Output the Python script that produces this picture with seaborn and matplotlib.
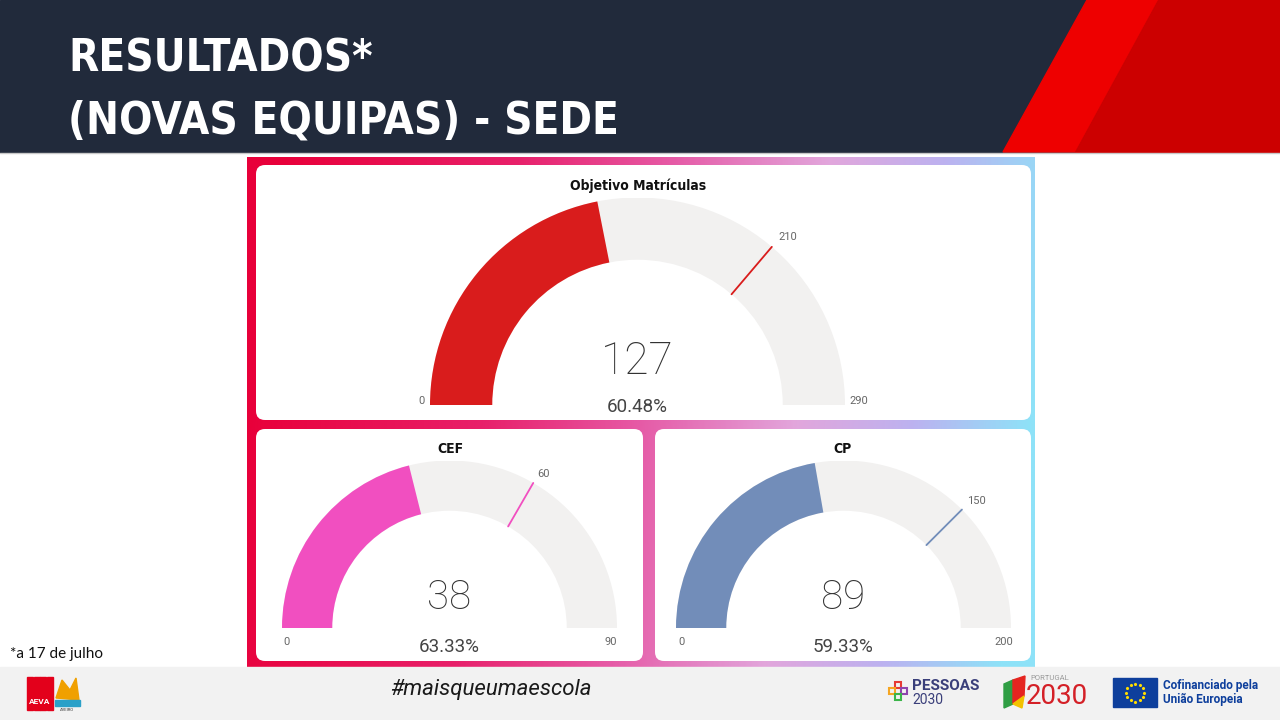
import numpy as np
import matplotlib
matplotlib.use("Agg")
import matplotlib.pyplot as plt
import seaborn as sns
from matplotlib import font_manager
from matplotlib.patches import Rectangle, Polygon, FancyBboxPatch, Wedge
from matplotlib.colors import LinearSegmentedColormap

# gauge data
gauge_titles = ["Objetivo Matrículas", "CEF", "CP"]
gauge_values = [127, 38, 89]
gauge_targets = [210, 60, 150]
gauge_max = [290, 90, 200]
gauge_pcts = ["60.48%", "63.33%", "59.33%"]
gauge_colors = ["#d91c1c", "#f14fc0", "#728db9"]

slide_title = ["RESULTADOS*", "(NOVAS EQUIPAS) - SEDE"]
footnote = "*a 17 de julho"
hashtag = "#maisqueumaescola"

W, H = 1280, 720
NAVY = "#212a3b"
TRACK = "#f2f1f0"

sns.set_theme(style="white")
plt.rcParams["font.family"] = ["Roboto", "DejaVu Sans"]

# use a condensed cut for the headline if one is installed
has_cond = any(f.name == "DejaVu Sans" and f.stretch == "condensed"
               for f in font_manager.fontManager.ttflist)
title_size = 31.5 if has_cond else 29

fig = plt.figure(figsize=(12.8, 7.2), dpi=100)
bg = fig.add_axes([0, 0, 1, 1])
bg.set_xlim(0, W)
bg.set_ylim(H, 0)
bg.axis("off")

# header band with red stripes
bg.add_patch(Rectangle((0, 0), W, 152, color=NAVY, zorder=1))
bg.add_patch(Polygon([(1087, 0), (1158, 0), (1075, 152), (1003, 152)], color="#ee0000", zorder=2))
bg.add_patch(Polygon([(1158, 0), (W, 0), (W, 152), (1075, 152)], color="#cc0000", zorder=2))
bg.plot([0, W], [152.5, 152.5], color="#c8c8c8", lw=1, zorder=2)
for line, yb in zip(slide_title, [72, 134]):
    bg.text(68, yb, line, color="white", fontsize=title_size, fontweight="bold",
            family="DejaVu Sans", fontstretch="condensed", va="baseline", zorder=3)

# gradient frame behind the cards
grad = LinearSegmentedColormap.from_list(
    "frame", [(0.0, "#e8003a"), (0.3, "#e8206a"), (0.5, "#e65aa6"),
              (0.7, "#e2a6dc"), (0.85, "#bcb2f0"), (1.0, "#8ee2f8")])
gx = np.linspace(0, 1, 400)
gy = np.linspace(0, 1, 100)
GX, GY = np.meshgrid(gx, gy)
field = np.clip(GX + 0.08 * (GY - 0.5), 0, 1)
bg.imshow(field, cmap=grad, extent=(247, 1035, 667, 157), aspect="auto",
          interpolation="bilinear", zorder=1)

cards = [(256, 165, 775, 255), (256, 429, 387, 232), (655, 429, 376, 232)]
for x0, y0, cw, ch in cards:
    bg.add_patch(FancyBboxPatch((x0 + 9, y0 + 9), cw - 18, ch - 18,
                                boxstyle="round,pad=9", fc="white", ec="none", zorder=2))

# footer
bg.add_patch(Rectangle((0, 667), W, 53, color="#f2f2f2", zorder=1))
bg.text(10, 654, footnote, fontsize=11, family=["Lato", "DejaVu Sans"], color="#111111",
        va="center", zorder=3)
bg.text(491, 690, hashtag, fontsize=16, style="italic", color="#1a1a1a",
        ha="center", va="center", zorder=3)

# AEVA logo
for i in range(4):
    bg.add_patch(Rectangle((27 + i * 6.7, 677), 6, 33, color="#e3001b", zorder=3))
bg.text(40, 701, "AEVA", fontsize=6, color="white", ha="center", va="center",
        fontweight="bold", zorder=4)
bg.add_patch(Polygon([(56, 698), (62, 680), (70, 690), (76, 678), (79, 700)],
                     color="#f0a000", zorder=3))
bg.add_patch(Rectangle((55, 700), 25, 6, color="#2aa0c8", zorder=3))
bg.text(67, 710, "AVEIRO", fontsize=3, color="#333333", ha="center", va="center", zorder=4)

# PESSOAS 2030
for dx, dy, c in [(0, -6, "#e53935"), (-6, 0, "#f5a623"), (6, 0, "#8e44ad"), (0, 6, "#3bb54a")]:
    bg.add_patch(Rectangle((895 + dx, 688 + dy), 6, 6, fc="none", ec=c, lw=1.5, zorder=3))
bg.text(912, 686, "PESSOAS", fontsize=11, fontweight="bold", color="#3a3f7a",
        va="center", zorder=3)
bg.text(912, 700, "2030", fontsize=10, color="#3a3f7a", va="center", zorder=3)

# PORTUGAL 2030
bg.add_patch(Polygon([(1004, 684), (1013, 680), (1013, 704), (1004, 708)], color="#2f9e44", zorder=3))
bg.add_patch(Polygon([(1013, 680), (1025, 676), (1024, 696), (1013, 704)], color="#e52520", zorder=3))
bg.add_patch(Polygon([(1013, 704), (1024, 696), (1022, 708)], color="#f2c200", zorder=3))
bg.text(1030, 678, "PORTUGAL", fontsize=5.5, color="#9a9a9a", va="center", zorder=3)
bg.text(1026, 697, "2030", fontsize=20, color="#d42027", va="center", zorder=3)

# EU flag
bg.add_patch(Rectangle((1113, 678), 44, 29, color="#0e3f9c", zorder=3))
ang = np.linspace(0, 2 * np.pi, 13)[:-1]
bg.scatter(1135 + 9 * np.cos(ang), 692.5 + 9 * np.sin(ang), s=2, color="#ffdd00",
           marker="*", zorder=4)
bg.text(1163, 686, "Cofinanciado pela", fontsize=8.5, fontweight="bold",
        color="#0e3f9c", va="center", zorder=3)
bg.text(1163, 699, "União Europeia", fontsize=8.5, fontweight="bold",
        color="#0e3f9c", va="center", zorder=3)

# gauge layout: centre x, baseline y, outer radius (pixels)
gauge_boxes = [(637.5, 405, 207.5), (449.5, 628, 167.5), (843.5, 628, 167.5)]
title_pos = [(638, 186), (450, 449), (843, 449)]
value_y = [0.21, 0.18, 0.18]
pct_y = [-0.01, -0.115, -0.115]
minmax_pos = [((-1.04, 0.02), (1.065, 0.02)), ((-0.975, -0.085), (0.96, -0.085)),
              ((-0.97, -0.085), (0.955, -0.085))]
value_size = [32, 29, 29]
INNER = 0.70

for i in range(3):
    cx, cy, R = gauge_boxes[i]
    ax = fig.add_axes([(cx - R) / W, (H - cy) / H, 2 * R / W, R / H])
    ax.set_xlim(-1, 1)
    ax.set_ylim(0, 1)
    ax.axis("off")
    frac = gauge_values[i] / gauge_max[i]
    ax.add_patch(Wedge((0, 0), 1, 0, 180, width=1 - INNER, color=TRACK, lw=0))
    ax.add_patch(Wedge((0, 0), 1, 180 - 180 * frac, 180, width=1 - INNER,
                       color=gauge_colors[i], lw=0))
    a = np.pi * (1 - gauge_targets[i] / gauge_max[i])
    ax.plot([INNER * np.cos(a), np.cos(a)], [INNER * np.sin(a), np.sin(a)],
            color=gauge_colors[i], lw=1.3)
    ax.text(1.03 * np.cos(a) + 0.01, 1.03 * np.sin(a), str(gauge_targets[i]),
            fontsize=8, color="#666666", ha="left", va="bottom", clip_on=False)
    ax.text(0, value_y[i], str(gauge_values[i]), fontsize=value_size[i], fontweight="light",
            color="#333333", ha="center", va="center", clip_on=False)
    ax.text(0, pct_y[i], gauge_pcts[i], fontsize=13.5, fontweight="normal",
            color="#444444", ha="center", va="center", clip_on=False)
    (x0, y0), (x1, y1) = minmax_pos[i]
    ax.text(x0, y0, "0", fontsize=8, color="#666666", ha="center", va="center", clip_on=False)
    ax.text(x1, y1, str(gauge_max[i]), fontsize=8, color="#666666", ha="center",
            va="center", clip_on=False)
    bg.text(title_pos[i][0], title_pos[i][1], gauge_titles[i], fontsize=10,
            fontweight="bold", family="DejaVu Sans", fontstretch="condensed",
            color="#111111", ha="center", va="center", zorder=3)

fig.savefig("out.png", dpi=100)
